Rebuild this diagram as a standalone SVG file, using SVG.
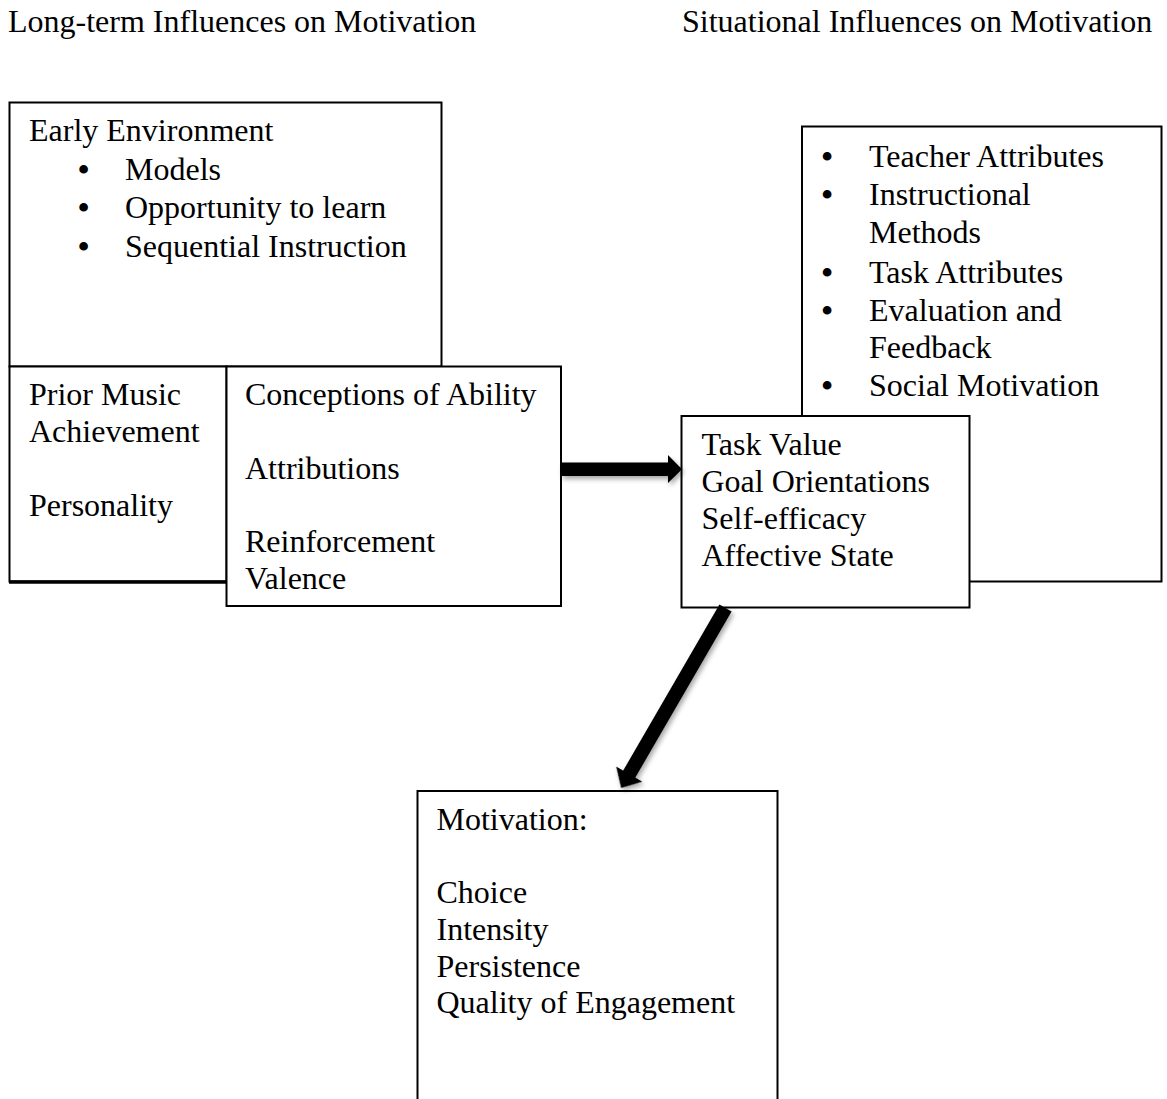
<svg xmlns="http://www.w3.org/2000/svg" width="1167" height="1099" viewBox="0 0 1167 1099">
<style>
text{font-family:"Liberation Serif","Times New Roman",serif;font-size:32px;fill:#000}
text.b{font-weight:bold}
.box{fill:#fff;stroke:#000;stroke-width:2}
.arrow{fill:#000;stroke:none}
</style>
<defs>
<filter id="sh" x="-20%" y="-20%" width="140%" height="140%">
<feDropShadow dx="2" dy="3" stdDeviation="2.5" flood-color="#000" flood-opacity="0.35"/>
</filter>
</defs>
<rect width="1167" height="1099" fill="#fff"/>
<g id="titles">
<text x="8" y="32">Long-term Influences on Motivation</text>
<text x="682" y="32">Situational Influences on Motivation</text>
</g>
<g id="early-environment">
<rect class="box" x="9.5" y="102.5" width="432" height="264"/>
<text x="29" y="141">Early Environment</text>
<text class="b" x="78" y="179.5">•</text><text x="125" y="179.5">Models</text>
<text class="b" x="78" y="218">•</text><text x="125" y="218">Opportunity to learn</text>
<text class="b" x="78" y="256.5">•</text><text x="125" y="256.5">Sequential Instruction</text>
</g>
<g id="prior-music">
<rect class="box" x="9.5" y="366.5" width="217" height="215"/>
<line x1="9" y1="582" x2="227" y2="582" stroke="#000" stroke-width="3.5"/>
<text x="29" y="404.5">Prior Music</text>
<text x="29" y="441.5">Achievement</text>
<text x="29" y="515.5">Personality</text>
</g>
<g id="conceptions">
<rect class="box" x="226.5" y="366.5" width="334.5" height="239.5"/>
<text x="245" y="404.5">Conceptions of Ability</text>
<text x="245" y="478.5">Attributions</text>
<text x="245" y="552">Reinforcement</text>
<text x="245" y="588.5">Valence</text>
</g>
<g id="situational">
<rect class="box" x="802" y="126.5" width="359.5" height="455"/>
<text class="b" x="821.5" y="167">•</text><text x="869" y="167">Teacher Attributes</text>
<text class="b" x="821.5" y="205">•</text><text x="869" y="205">Instructional</text>
<text x="869" y="242.5">Methods</text>
<text class="b" x="821.5" y="282.5">•</text><text x="869" y="282.5">Task Attributes</text>
<text class="b" x="821.5" y="321">•</text><text x="869" y="321">Evaluation and</text>
<text x="869" y="358">Feedback</text>
<text class="b" x="821.5" y="396">•</text><text x="869" y="396">Social Motivation</text>
</g>
<g id="task-value">
<rect class="box" x="681.5" y="416" width="288" height="191.5"/>
<text x="701.5" y="455">Task Value</text>
<text x="701.5" y="491.8">Goal Orientations</text>
<text x="701.5" y="528.8">Self-efficacy</text>
<text x="701.5" y="565.6">Affective State</text>
</g>
<g id="motivation">
<rect class="box" x="417.5" y="791" width="360" height="330"/>
<text x="436.5" y="829.5">Motivation:</text>
<text x="436.5" y="903.3">Choice</text>
<text x="436.5" y="940">Intensity</text>
<text x="436.5" y="976.7">Persistence</text>
<text x="436.5" y="1013.3">Quality of Engagement</text>
</g>
<g id="connectors" filter="url(#sh)">
<polygon class="arrow" points="561,462.5 668,462.5 668,455 682,469.3 668,483 668,476 561,476"/>
<polygon class="arrow" transform="translate(725.5,608) rotate(120.1)" points="0,-7 192,-7 192,-15 208,0 192,15 192,7 0,7"/>
</g>
</svg>
